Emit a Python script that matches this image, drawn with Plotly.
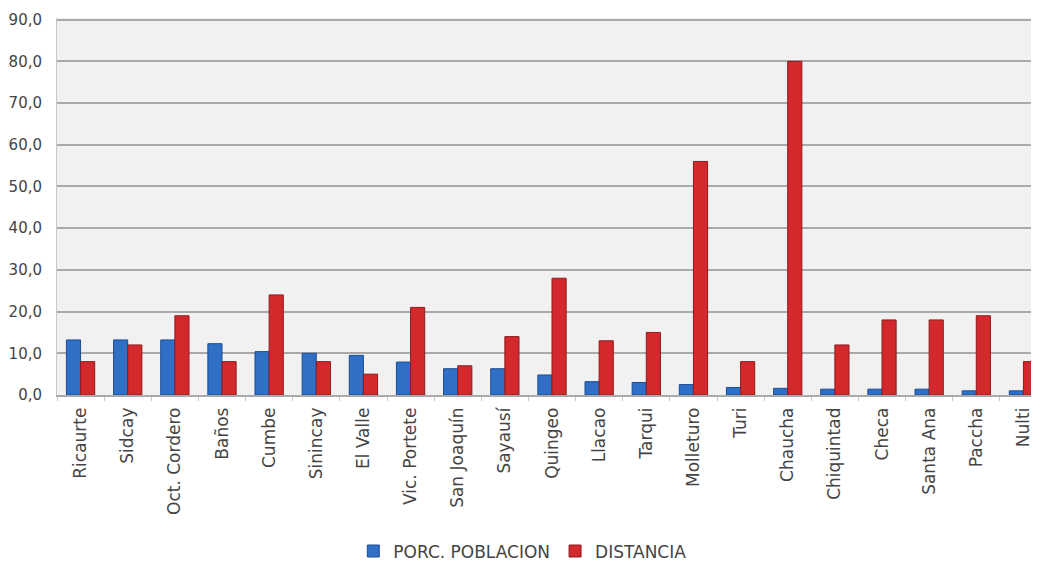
import plotly.graph_objects as go

categories = ["Ricaurte", "Sidcay", "Oct. Cordero", "Baños", "Cumbe", "Sinincay",
              "El Valle", "Vic. Portete", "San Joaquín", "Sayausí", "Quingeo",
              "Llacao", "Tarqui", "Molleturo", "Turi", "Chaucha", "Chiquintad",
              "Checa", "Santa Ana", "Paccha", "Nulti"]
porc_poblacion = [13.2, 13.2, 13.2, 12.3, 10.4, 10.0, 9.5, 7.9, 6.3, 6.3, 4.8,
                  3.2, 3.0, 2.5, 1.8, 1.6, 1.4, 1.4, 1.4, 1.0, 1.0]
distancia = [8, 12, 19, 8, 24, 8, 5, 21, 7, 14, 28, 13, 15, 56, 8, 80, 12, 18, 18, 19, 8]
y_ticks = [0, 10, 20, 30, 40, 50, 60, 70, 80, 90]

FONT = "DejaVu Sans"
TXT = "#444444"

fig = go.Figure()
fig.add_trace(go.Bar(
    x=categories, y=porc_poblacion, name="PORC. POBLACION",
    marker=dict(color="#2f6fc6", line=dict(color="#1d4c91", width=1)),
))
fig.add_trace(go.Bar(
    x=categories, y=distancia, name="DISTANCIA",
    marker=dict(color="#d3282c", line=dict(color="#8e1b1e", width=1)),
))

fig.update_layout(
    width=1039, height=566,
    margin=dict(l=49, r=0, t=10, b=179, autoexpand=False),
    paper_bgcolor="white", plot_bgcolor="#f1f1f1",
    barmode="group", bargap=0.4, bargroupgap=0.0,
    separators=",.",
    font=dict(family=FONT, size=14, color=TXT),
    showlegend=True,
    legend=dict(orientation="h", x=0.47, xanchor="center", y=-0.415, yanchor="middle",
                font=dict(family=FONT, size=17, color=TXT),
                traceorder="normal"),
)
fig.update_yaxes(
    range=[0, 90.4], tickvals=y_ticks, tickformat=".1f", automargin=False,
    showgrid=True, gridcolor="#a9a9a9", gridwidth=1.5,
    zeroline=False, showline=True, linecolor="#c8c8c8", linewidth=1,
    ticks="", ticklabelstandoff=11, ticklabeloverflow="allow",
    tickfont=dict(family=FONT, size=15, color=TXT),
)
fig.update_xaxes(
    tickangle=-90, showgrid=False, showline=True, linecolor="#a9a9a9", linewidth=1.5,
    automargin=False,
    ticks="outside", tickson="boundaries", ticklen=4, tickcolor="#c8c8c8",
    ticklabelstandoff=4,
    tickfont=dict(family=FONT, size=17, color=TXT),
)

fig.write_html("out.html")
